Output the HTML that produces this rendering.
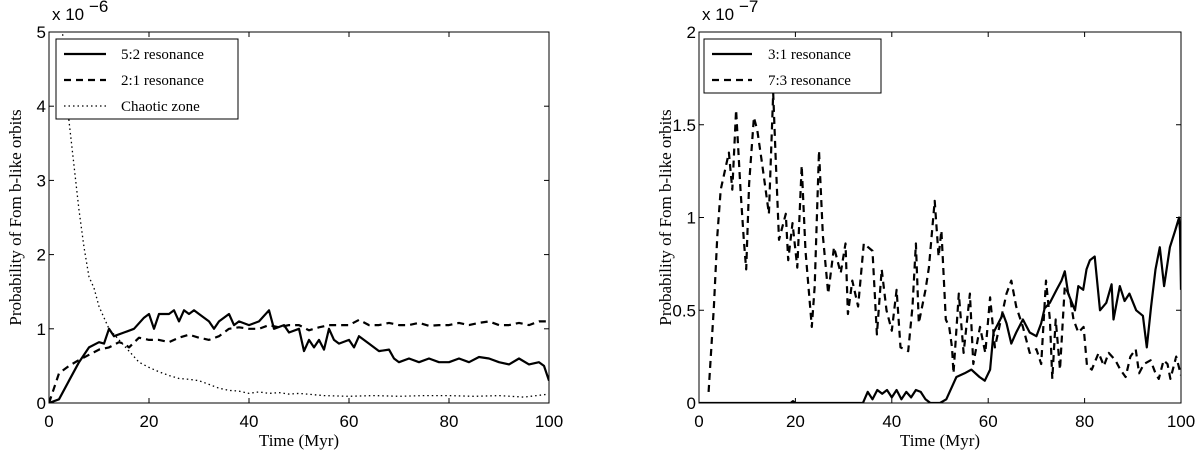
<!DOCTYPE html>
<html><head><meta charset="utf-8"><style>
html,body{margin:0;padding:0;background:#fff;}
svg{display:block;}
.tick{font-family:"Liberation Sans",sans-serif;font-size:17px;fill:#000;}
.lab{font-family:"Liberation Serif",serif;font-size:17px;fill:#000;}
.leg{font-family:"Liberation Serif",serif;font-size:15px;fill:#000;}
</style></head><body>
<svg id="chart" width="1200" height="454" viewBox="0 0 1200 454" xmlns="http://www.w3.org/2000/svg"></svg>
<script>
// Left panel data (units 1e-6)
const leftT52 = [0,2,4,6,8,10,11,12,13,15,17,19,20,21,22,24,25,26,27,28,29,30,32,33,34,36,37,38,40,42,44,45,47,48,50,51,52,53,54,55,56,57,58,60,61,62,64,66,68,69,70,72,74,76,78,80,82,84,86,88,90,92,94,96,98,99,100];
const leftV52 = [0,0.05,0.3,0.55,0.75,0.82,0.8,1.0,0.9,0.95,1.0,1.15,1.2,1.0,1.2,1.2,1.25,1.1,1.25,1.2,1.25,1.2,1.1,1.0,1.1,1.2,1.05,1.1,1.05,1.1,1.25,1.0,1.05,0.95,1.0,0.7,0.85,0.75,0.85,0.72,1.0,0.85,0.8,0.85,0.75,0.9,0.8,0.7,0.72,0.6,0.55,0.6,0.55,0.6,0.55,0.55,0.6,0.55,0.62,0.6,0.55,0.52,0.6,0.52,0.55,0.5,0.3];
const leftT21 = [0,1,2,4,6,8,10,12,14,15,16,18,20,22,24,26,28,30,32,34,36,38,40,42,44,46,48,50,52,54,56,58,60,62,64,66,68,70,72,74,76,78,80,82,84,86,88,90,92,94,96,98,100];
const leftV21 = [0,0.2,0.4,0.5,0.58,0.65,0.72,0.75,0.82,0.8,0.75,0.88,0.85,0.85,0.82,0.88,0.92,0.88,0.85,0.9,1.0,1.02,1.0,1.0,1.05,1.02,1.05,1.05,0.98,1.02,1.05,1.05,1.05,1.12,1.05,1.05,1.08,1.05,1.05,1.08,1.04,1.05,1.05,1.08,1.05,1.08,1.1,1.05,1.05,1.08,1.05,1.1,1.1];
const leftTCh = [1,2,3,4,5,6,7,8,9,10,12,14,16,18,20,22,24,26,28,30,32,34,36,38,40,42,44,46,48,50,55,60,65,70,75,80,85,90,95,100];
const leftVCh = [8,6,4.6,3.8,3.2,2.6,2.1,1.7,1.55,1.3,1.0,0.85,0.7,0.55,0.48,0.42,0.37,0.33,0.32,0.3,0.25,0.2,0.17,0.16,0.13,0.15,0.13,0.14,0.12,0.13,0.1,0.09,0.1,0.09,0.1,0.1,0.09,0.1,0.08,0.12];
const leftYTicks = ["0","1","2","3","4","5"];
const xTickLabels = ["0","20","40","60","80","100"];
// Right panel data (units 1e-7)
const rightT31 = [0,19,19.5,20,34,35,36,37,38,39,40,41,42,43,44,45,46,47,48,50,51.3,53.4,55.1,56.5,58.2,59.3,60.4,61.1,62.1,63.1,63.8,64.8,65.8,67.2,68.6,70,71,71.7,72.8,74.2,75.2,75.9,76.6,78,78.7,79.7,80.4,81.1,82.1,83.2,84.5,85.6,86,87.3,88.3,89.3,90.7,92.1,92.9,93.8,94.7,95.6,96.5,97.7,98.8,99.6,99.8,100];
const rightV31 = [0,0,0.01,0,0,0.06,0.02,0.07,0.05,0.07,0.03,0.07,0.02,0.06,0.03,0.07,0.06,0.02,0,0,0.02,0.14,0.16,0.18,0.14,0.12,0.18,0.38,0.43,0.48,0.43,0.32,0.38,0.45,0.38,0.36,0.43,0.51,0.54,0.61,0.66,0.71,0.59,0.5,0.63,0.61,0.72,0.77,0.79,0.5,0.54,0.64,0.45,0.63,0.55,0.59,0.5,0.47,0.3,0.52,0.72,0.84,0.63,0.84,0.93,1.0,0.93,0.61];
const rightT73 = [2,3.1,3.8,4.5,6.2,6.9,7.7,8.6,9.3,9.8,10.4,11.4,12.1,13.1,14.5,15.4,15.9,16.6,18,18.5,19.4,20.4,21.3,22.1,23.4,24,24.9,25.7,26.8,28,29.4,30.4,30.9,31.8,33,34.2,36,36.9,37.9,38.9,40,41,41.8,43.4,44.3,45,45.6,47,47.7,48.9,49.7,50.3,50.8,51.2,51.9,52.5,52.8,53.9,54.9,56.2,56.9,58.3,59.4,60.4,61.4,63.8,64.8,65.8,67.2,68.6,70,71,72,72.8,73.3,74,74.9,75.9,77,77.7,78.7,79.8,80.5,81.5,82.9,84,85,86.4,87.4,88.5,89.5,90.6,91.3,92.3,93.7,94.7,95.4,96.4,97.2,97.8,99,100];
const rightV73 = [0.06,0.52,0.9,1.15,1.35,1.15,1.58,1.15,0.88,0.72,1.18,1.54,1.47,1.29,1.02,1.67,1.33,0.88,1.02,0.77,0.97,0.73,1.28,0.82,0.41,0.63,1.36,0.9,0.59,0.84,0.7,0.86,0.48,0.66,0.52,0.86,0.82,0.37,0.72,0.5,0.39,0.61,0.3,0.28,0.52,0.86,0.43,0.61,0.73,1.09,0.79,0.93,0.66,0.45,0.41,0.3,0.16,0.59,0.27,0.59,0.21,0.41,0.27,0.57,0.3,0.59,0.66,0.52,0.41,0.27,0.29,0.21,0.66,0.45,0.13,0.45,0.18,0.63,0.57,0.45,0.38,0.41,0.2,0.18,0.27,0.2,0.27,0.23,0.18,0.14,0.25,0.29,0.16,0.21,0.23,0.16,0.13,0.23,0.21,0.13,0.25,0.15];
const rightYTicks = ["0","0.5","1","1.5","2"];

const NS="http://www.w3.org/2000/svg";
const svg=document.getElementById('chart');
function mk(tag,attrs,parent){const e=document.createElementNS(NS,tag);for(const k in attrs)e.setAttribute(k,attrs[k]);(parent||svg).appendChild(e);return e;}

function panel(cfg){
  const g=mk('g',{});
  
  
  const {x0,x1,y0,y1,ymax}=cfg;
  const sx=t=>x0+(t/100)*(x1-x0);
  const sy=v=>y0-(v/ymax)*(y0-y1);
  const clip=mk('clipPath',{id:cfg.name+'-clip'},g);
  mk('rect',{x:x0,y:y1,width:x1-x0,height:y0-y1},clip);
  // series
  cfg.series.forEach(s=>{
    const pts=s.t.map((t,i)=>sx(t).toFixed(1)+','+sy(s.v[i]).toFixed(1)).join(' ');
    const p=mk('polyline',{points:pts,fill:'none',stroke:'#000','stroke-width':s.w,'stroke-dasharray':s.dash,'clip-path':'url(#'+cfg.name+'-clip)','stroke-linejoin':'round'},g);
    
    
  });
  // frame
  const fr=mk('rect',{x:x0,y:y1,width:x1-x0,height:y0-y1,fill:'none',stroke:'#000','stroke-width':1},g);
  
  
  // x ticks
  xTickLabels.forEach((lab,i)=>{
    const x=sx(i*20);
    mk('line',{x1:x,y1:y0,x2:x,y2:y0-5,stroke:'#000'},g);
    mk('line',{x1:x,y1:y1,x2:x,y2:y1+5,stroke:'#000'},g);
    const t=mk('text',{x:x,y:y0+24,'text-anchor':'middle',class:'tick'},g);
    t.textContent=lab;
    
    
  });
  cfg.yTicks.forEach((lab,i)=>{
    const y=sy(i*cfg.ystep);
    mk('line',{x1:x0,y1:y,x2:x0+5,y2:y,stroke:'#000'},g);
    mk('line',{x1:x1,y1:y,x2:x1-5,y2:y,stroke:'#000'},g);
    const t=mk('text',{x:x0-3,y:y+6,'text-anchor':'end',class:'tick'},g);
    t.textContent=lab;
    
    
  });
  const ex=mk('text',{x:x0+3,y:y1-12,class:'tick'},g);
  ex.textContent='x 10';
  
  
  const ex2=mk('text',{x:x0+40,y:y1-20,class:'tick','font-size':'12'},g);
  ex2.textContent=cfg.exp;
  
  
  const xt=mk('text',{x:(x0+x1)/2,y:446,'text-anchor':'middle',class:'lab'},g);
  xt.textContent='Time (Myr)';
  
  
  const yt=mk('text',{x:0,y:0,'text-anchor':'middle',class:'lab',transform:'translate('+(x0-28)+','+((y0+y1)/2)+') rotate(-90)'},g);
  yt.textContent='Probability of Fom b-like orbits';
  
  
  // legend
  const L=cfg.legend;
  const lg=mk('g',{},g);
  
  
  mk('rect',{x:L.x,y:L.y,width:L.w,height:L.items.length*26+2,fill:'#fff',stroke:'#000'},lg);
  L.items.forEach((it,i)=>{
    const y=L.y+15+i*26;
    mk('line',{x1:L.x+8,y1:y,x2:L.x+8+L.lw,y2:y,stroke:'#000','stroke-width':it.w,'stroke-dasharray':it.dash},lg);
    const t=mk('text',{x:L.x+L.tx,y:y+5,class:'leg'},lg);
    t.textContent=it.label;
    
    
  });
}

panel({name:'left-panel',x0:49,x1:549,y0:403,y1:32,ymax:5,ystep:1,yTicks:leftYTicks,exp:'−6',
  series:[{name:'series-5-2-resonance',t:leftT52,v:leftV52,w:2.2,dash:'none'},
          {name:'series-2-1-resonance',t:leftT21,v:leftV21,w:2.2,dash:'7,5'},
          {name:'series-chaotic-zone',t:leftTCh,v:leftVCh,w:1.3,dash:'1.5,3'}],
  legend:{x:56,y:39,w:182,lw:42,tx:65,items:[{label:'5:2 resonance',w:2.2,dash:'none'},{label:'2:1 resonance',w:2.2,dash:'7,5'},{label:'Chaotic zone',w:1.3,dash:'1.5,3'}]}});
panel({name:'right-panel',x0:699,x1:1181,y0:403,y1:32,ymax:2,ystep:0.5,yTicks:rightYTicks,exp:'−7',
  series:[{name:'series-3-1-resonance',t:rightT31,v:rightV31,w:2.2,dash:'none'},
          {name:'series-7-3-resonance',t:rightT73,v:rightV73,w:2.2,dash:'7,5'}],
  legend:{x:704,y:39,w:177,lw:40,tx:64,items:[{label:'3:1 resonance',w:2.2,dash:'none'},{label:'7:3 resonance',w:2.2,dash:'7,5'}]}});
</script>
</body></html>
